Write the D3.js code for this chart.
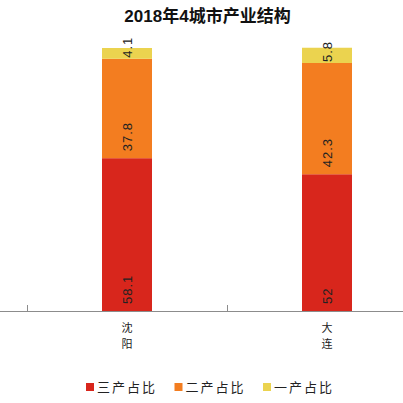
<!DOCTYPE html>
<html><head><meta charset="utf-8">
<script src="https://cdn.jsdelivr.net/npm/d3@7/dist/d3.min.js"></script>
<style>body{margin:0;background:#fff}svg{display:block}</style>
</head><body>
<script>
const title = "2018年4城市产业结构";
const categories = ["沈阳", "大连"];
const seriesNames = ["三产占比", "二产占比", "一产占比"];
const tertiary = [58.1, 52];
const secondary = [37.8, 42.3];
const primary = [4.1, 5.8];
const colors = ["#d8261c", "#f37d20", "#ebd34f"];

const W = 403, H = 403;
const svg = d3.select("body").append("svg").attr("width", W).attr("height", H);

const x = d3.scaleBand().domain(categories).range([27, 427]).padding(0);
const y = d3.scaleLinear().domain([0, 100]).range([311, 48]);

const series = [tertiary, secondary, primary];
const rows = categories.map((c, i) => {
  const o = {cat: c};
  seriesNames.forEach((s, k) => o[s] = series[k][i]);
  return o;
});
const stacked = d3.stack().keys(seriesNames)(rows);

const bw = x.bandwidth() * 0.25;
const bx = c => x(c) + x.bandwidth() / 2 - bw / 2;

stacked.forEach((layer, k) => {
  const g = svg.append("g");
  g.selectAll("rect").data(layer).join("rect")
    .attr("x", d => bx(d.data.cat))
    .attr("width", bw)
    .attr("y", d => y(d[1]))
    .attr("height", d => y(d[0]) - y(d[1]))
    .attr("fill", colors[k]);
  g.selectAll("text").data(layer).join("text")
    .attr("transform", d => {
      const h = y(d[0]) - y(d[1]);
      const off = h > 30 ? 7 : 1;
      return `translate(${bx(d.data.cat) + bw / 2 + 4.5},${y(d[0]) - off}) rotate(-90)`;
    })
    .attr("font-family", "Liberation Sans, Arial, sans-serif")
    .attr("font-size", 13)
    .attr("letter-spacing", 1)
    .attr("fill", "#222")
    .text(d => d.data[layer.key]);
});

// axis
svg.append("line").attr("x1", 0).attr("x2", W).attr("y1", 311.5).attr("y2", 311.5)
  .attr("stroke", "#8c8c8c").attr("stroke-width", 1);
categories.forEach(c => {
  svg.append("line").attr("x1", Math.round(x(c)) + 0.5).attr("x2", Math.round(x(c)) + 0.5)
    .attr("y1", 305).attr("y2", 311).attr("stroke", "#8c8c8c");
  [...c].forEach((ch, i) => {
    svg.append("text").attr("text-anchor", "middle")
      .attr("font-family", "Noto Sans CJK SC, sans-serif").attr("font-size", 11).attr("fill", "#222")
      .attr("x", x(c) + x.bandwidth() / 2).attr("y", 331.5 + i * 16.5).text(ch);
  });
});

// title
svg.append("text").attr("x", 207.5).attr("y", 22).attr("text-anchor", "middle")
  .attr("font-family", "Liberation Sans, Noto Sans CJK SC, sans-serif")
  .attr("font-weight", "bold").attr("font-size", 17).attr("fill", "#111")
  .text(title);

// legend
const lg = svg.append("g");
seriesNames.forEach((s, k) => {
  const lx = 86 + k * 88.5;
  lg.append("rect").attr("x", lx).attr("y", 383).attr("width", 8).attr("height", 8).attr("fill", colors[k]);
  lg.append("text").attr("x", lx + 11).attr("y", 392)
    .attr("font-family", "Noto Sans CJK SC, sans-serif").attr("font-size", 13)
    .attr("letter-spacing", 2).attr("fill", "#222").text(s);
});
</script>
</body></html>
